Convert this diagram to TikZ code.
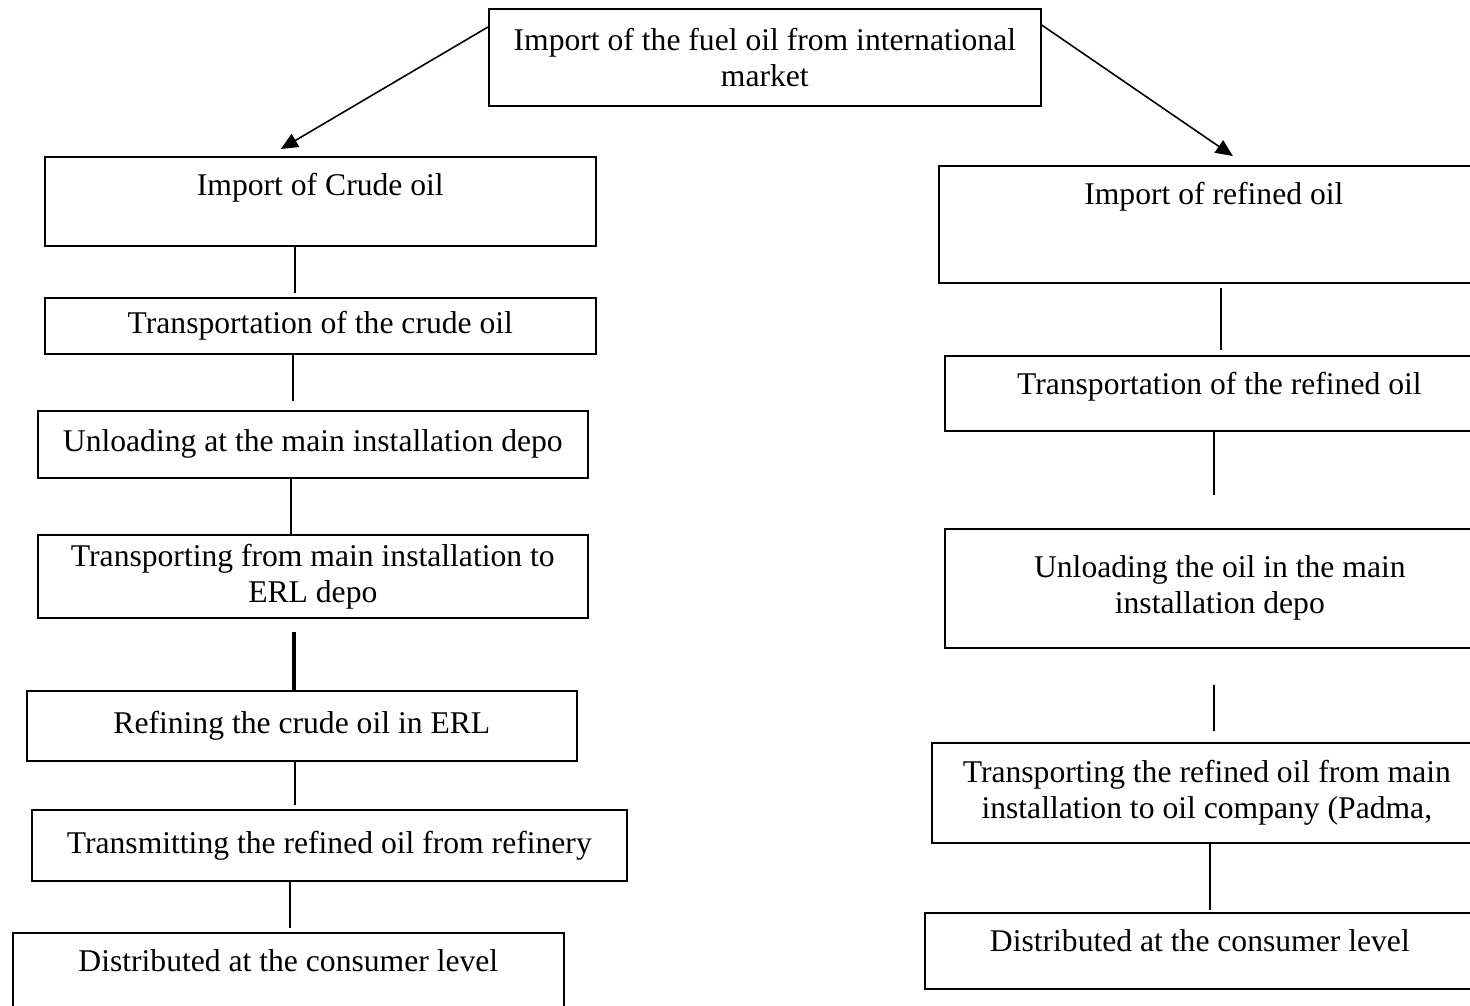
\documentclass[tikz,border=0pt]{standalone}
\usepackage{fontspec}
\setmainfont{Liberation Serif}
\usepackage{tikz}
\usetikzlibrary{%
  calc,
  positioning,
  arrows.meta,
}

\tikzset{
  stage/.style = {
    draw, line width = 1pt,
    anchor = north west,
    inner sep = 0pt,
    align = center,
    font = \fontsize{18}{20.5}\selectfont,
  },
  topline/.style = {text height = 0.78cm, text depth = #1},
  link/.style = {line width = 1.5pt},
  feed/.style = {line width = 0.9pt, -{Triangle[length = 0.34cm, width = 0.3cm]}},
}

\begin{document}
\begin{tikzpicture}[x = 0.02cm, y = -0.02cm]
        \useasboundingbox (0,0) rectangle (1470,1005);
        \clip (0,0) rectangle (1470,1005);

        \node[stage, minimum width = 11.04cm, minimum height = 1.94cm] (market) at (488,8)
          {Import of the fuel oil from international\\market};

        \node[stage, minimum width = 11.02cm, topline = 1cm] (crude) at (44,156)
          {Import of Crude oil};
        \node[stage, minimum width = 11.02cm, minimum height = 1.12cm] (crudeship) at (44,297)
          {Transportation of the crude oil};
        \node[stage, minimum width = 11cm, minimum height = 1.34cm] (crudeunload) at (37,410)
          {Unloading at the main installation depo};
        \node[stage, minimum width = 11cm, minimum height = 1.66cm] (toerl) at (37,534)
          {Transporting from main installation to\\ERL depo};
        \node[stage, minimum width = 11cm, minimum height = 1.4cm] (refining) at (26,690)
          {Refining the crude oil in ERL};
        \node[stage, minimum width = 11.9cm, minimum height = 1.42cm] (transmit) at (31,809)
          {Transmitting the refined oil from refinery};
        \node[stage, minimum width = 11.02cm, topline = 1.18cm] (crudeuser) at (12,932)
          {Distributed at the consumer level};

        \node[stage, minimum width = 11cm, topline = 1.56cm] (refined) at (938,165)
          {Import of refined oil};
        \node[stage, minimum width = 10.98cm, topline = 0.72cm] (refship) at (944,355)
          {Transportation of the refined oil};
        \node[stage, minimum width = 11cm, minimum height = 2.38cm] (refunload) at (944,528)
          {Unloading the oil in the main\\installation depo};
        \node[stage, minimum width = 11cm, minimum height = 2cm] (tocompany) at (931,742)
          {Transporting the refined oil from main\\installation to oil company (Padma,};
        \node[stage, minimum width = 11cm, topline = 0.74cm] (refuser) at (924,912)
          {Distributed at the consumer level};

        \draw[feed] ([yshift = -0.38cm]market.north west) -- ([xshift = -0.79cm, yshift = 0.14cm]crude.north);
        \draw[feed] ([yshift = -0.34cm]market.north east) -- ([xshift = 0.38cm, yshift = 0.18cm]refined.north);

        \begin{scope}[link]
          \draw[shorten > = 0.08cm] ([xshift = -0.51cm]crude.south) -- ([xshift = -0.51cm]crude.south |- crudeship.north);
          \draw[shorten > = 0.18cm] ([xshift = -0.55cm]crudeship.south) -- ([xshift = -0.55cm]crudeship.south |- crudeunload.north);
          \draw ([xshift = -0.44cm]crudeunload.south) -- ([xshift = -0.44cm]crudeunload.south |- toerl.north);
          \draw[line width = 2pt, shorten < = 0.26cm] ([xshift = -0.38cm]toerl.south) -- ([xshift = -0.38cm]toerl.south |- refining.north);
          \draw[shorten > = 0.08cm] ([xshift = -0.14cm]refining.south) -- ([xshift = -0.14cm]refining.south |- transmit.north);
          \draw[shorten > = 0.08cm] ([xshift = -0.79cm]transmit.south) -- ([xshift = -0.79cm]transmit.south |- crudeuser.north);

          \draw[shorten < = 0.08cm, shorten > = 0.1cm] ([xshift = 0.14cm]refined.south) -- ([xshift = 0.14cm]refined.south |- refship.north);
          \draw[shorten > = 0.66cm] ([xshift = -0.11cm]refship.south) -- ([xshift = -0.11cm]refship.south |- refunload.north);
          \draw[shorten < = 0.72cm, shorten > = 0.22cm] ([xshift = -0.12cm]refunload.south) -- ([xshift = -0.12cm]refunload.south |- tocompany.north);
          \draw[shorten > = 0.04cm] ([xshift = 0.06cm]tocompany.south) -- ([xshift = 0.06cm]tocompany.south |- refuser.north);
        \end{scope}
      \end{tikzpicture}
\end{document}
